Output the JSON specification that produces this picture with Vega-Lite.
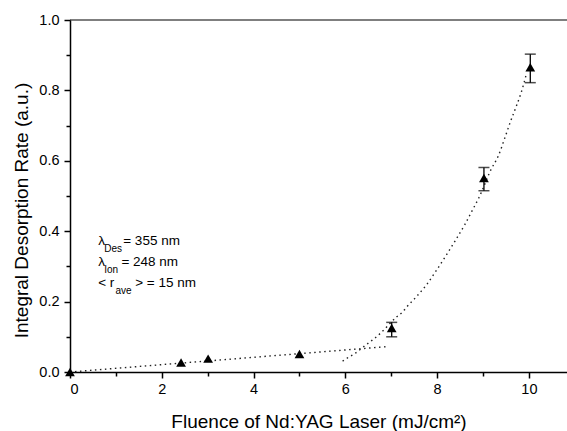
{
  "$schema": "https://vega.github.io/schema/vega-lite/v6.json",
  "width": 497,
  "height": 352,
  "autosize": {"type": "none"},
  "padding": {"left": 70, "top": 20, "right": 0, "bottom": 59},
  "background": "white",
  "config": {
    "view": {"stroke": null},
    "font": "Liberation Sans",
    "axis": {
      "grid": false,
      "domainColor": "black",
      "domainWidth": 1.5,
      "tickColor": "black",
      "tickWidth": 1.5,
      "labelColor": "black",
      "labelFont": "Liberation Sans",
      "labelFontSize": 14.5,
      "titleFont": "Liberation Sans",
      "titleFontSize": 19,
      "titleFontWeight": "normal",
      "titleColor": "black"
    }
  },
  "datasets": {
    "points": [
      {"x": 0, "y": 0},
      {"x": 2.42, "y": 0.027},
      {"x": 3.01, "y": 0.038},
      {"x": 5.0, "y": 0.051},
      {"x": 7.01, "y": 0.125, "lo": 0.1, "hi": 0.141},
      {"x": 9.02, "y": 0.551, "lo": 0.515, "hi": 0.581},
      {"x": 10.03, "y": 0.866, "lo": 0.822, "hi": 0.903}
    ],
    "linfit": [
      {"x": 0, "y": 0},
      {"x": 6.9, "y": 0.072}
    ],
    "expfit": [
      {"x": 5.94, "y": 0.031},
      {"x": 6.07, "y": 0.042},
      {"x": 6.19, "y": 0.051},
      {"x": 6.42, "y": 0.074},
      {"x": 6.54, "y": 0.086},
      {"x": 6.66, "y": 0.098},
      {"x": 6.78, "y": 0.112},
      {"x": 7.12, "y": 0.157},
      {"x": 7.25, "y": 0.171},
      {"x": 7.36, "y": 0.188},
      {"x": 7.57, "y": 0.217},
      {"x": 7.77, "y": 0.248},
      {"x": 7.94, "y": 0.28},
      {"x": 8.18, "y": 0.328},
      {"x": 8.39, "y": 0.372},
      {"x": 8.6, "y": 0.418},
      {"x": 8.79, "y": 0.465},
      {"x": 8.91, "y": 0.495},
      {"x": 9.17, "y": 0.574},
      {"x": 9.34, "y": 0.616},
      {"x": 9.47, "y": 0.663},
      {"x": 9.6, "y": 0.712},
      {"x": 9.74, "y": 0.76},
      {"x": 9.83, "y": 0.793},
      {"x": 9.94, "y": 0.844}
    ],
    "notes": [
      {"x": 0.614, "y": 0.372, "t": "λ", "k": "main"},
      {"x": 0.745, "y": 0.35, "t": "Des", "k": "sub"},
      {"x": 1.16, "y": 0.372, "t": "= 355 nm", "k": "main"},
      {"x": 0.614, "y": 0.3125, "t": "λ", "k": "main"},
      {"x": 0.745, "y": 0.291, "t": "Ion", "k": "sub"},
      {"x": 1.12, "y": 0.3125, "t": "= 248 nm", "k": "main"},
      {"x": 0.614, "y": 0.252, "t": "< r", "k": "main"},
      {"x": 0.99, "y": 0.23, "t": "ave", "k": "sub"},
      {"x": 1.42, "y": 0.252, "t": "> = 15 nm", "k": "main"}
    ]
  },
  "encoding": {
    "x": {
      "field": "x", "type": "quantitative",
      "scale": {"domain": [0, 10.83], "nice": false},
      "axis": {
        "title": "Fluence of Nd:YAG Laser (mJ/cm²)",
        "values": [0, 1, 2, 3, 4, 5, 6, 7, 8, 9, 10],
        "labelExpr": "datum.value % 2 === 0 ? format(datum.value, 'd') : ''",
        "tickSize": {"condition": {"test": "datum.value % 2 === 0", "value": 6}, "value": 4},
        "labelPadding": 4,
        "titlePadding": 17
      }
    },
    "y": {
      "field": "y", "type": "quantitative",
      "scale": {"domain": [0, 1]},
      "axis": {
        "title": "Integral Desorption Rate (a.u.)",
        "values": [0, 0.1, 0.2, 0.3, 0.4, 0.5, 0.6, 0.7, 0.8, 0.9, 1.0],
        "labelExpr": "round(datum.value * 10) % 2 === 0 ? format(datum.value, '.1f') : ''",
        "tickSize": {"condition": {"test": "round(datum.value * 10) % 2 === 0", "value": 6}, "value": 4},
        "labelPadding": 5,
        "titlePadding": 7,
        "titleY": 190
      }
    }
  },
  "layer": [
    {
      "data": {"name": "linfit"},
      "mark": {"type": "line", "color": "#222", "strokeWidth": 1.4, "strokeDash": [1.5, 3.5]}
    },
    {
      "data": {"name": "expfit"},
      "mark": {"type": "line", "color": "#222", "strokeWidth": 1.4, "strokeDash": [1.5, 3.5], "interpolate": "monotone"}
    },
    {
      "data": {"name": "points"},
      "transform": [{"filter": "isValid(datum.lo)"}],
      "mark": {"type": "rule", "color": "black", "strokeWidth": 1.3},
      "encoding": {
        "y": {
          "field": "lo", "type": "quantitative",
          "scale": {"domain": [0, 1]},
          "axis": {
            "title": "Integral Desorption Rate (a.u.)",
            "values": [0, 0.1, 0.2, 0.3, 0.4, 0.5, 0.6, 0.7, 0.8, 0.9, 1.0],
            "labelExpr": "round(datum.value * 10) % 2 === 0 ? format(datum.value, '.1f') : ''",
            "tickSize": {"condition": {"test": "round(datum.value * 10) % 2 === 0", "value": 6}, "value": 4},
            "labelPadding": 5,
            "titlePadding": 7,
            "titleY": 190
          }
        },
        "y2": {"field": "hi"}
      }
    },
    {
      "data": {"name": "points"},
      "transform": [
        {"filter": "isValid(datum.lo)"},
        {"fold": ["lo", "hi"], "as": ["end", "val"]}
      ],
      "mark": {"type": "tick", "orient": "horizontal", "color": "black", "size": 11, "thickness": 1.5},
      "encoding": {
        "y": {
          "field": "val", "type": "quantitative",
          "scale": {"domain": [0, 1]},
          "axis": {
            "title": "Integral Desorption Rate (a.u.)",
            "values": [0, 0.1, 0.2, 0.3, 0.4, 0.5, 0.6, 0.7, 0.8, 0.9, 1.0],
            "labelExpr": "round(datum.value * 10) % 2 === 0 ? format(datum.value, '.1f') : ''",
            "tickSize": {"condition": {"test": "round(datum.value * 10) % 2 === 0", "value": 6}, "value": 4},
            "labelPadding": 5,
            "titlePadding": 7,
            "titleY": 190
          }
        }
      }
    },
    {
      "data": {"name": "points"},
      "mark": {"type": "point", "shape": "triangle-up", "filled": true, "color": "black", "size": 95, "opacity": 1}
    },
    {
      "data": {"name": "notes"},
      "transform": [{"filter": "datum.k === 'main'"}],
      "mark": {"type": "text", "align": "left", "baseline": "middle", "fontSize": 13.5, "color": "black", "font": "Liberation Sans"},
      "encoding": {"text": {"field": "t"}}
    },
    {
      "data": {"name": "notes"},
      "transform": [{"filter": "datum.k === 'sub'"}],
      "mark": {"type": "text", "align": "left", "baseline": "middle", "fontSize": 10, "color": "black", "font": "Liberation Sans"},
      "encoding": {"text": {"field": "t"}}
    },
    {
      "data": {"values": [{"top": 1}]},
      "mark": {"type": "rule", "color": "black", "strokeWidth": 1.2},
      "encoding": {
        "x": null,
        "y": {
          "field": "top", "type": "quantitative",
          "scale": {"domain": [0, 1]},
          "axis": {
            "title": "Integral Desorption Rate (a.u.)",
            "values": [0, 0.1, 0.2, 0.3, 0.4, 0.5, 0.6, 0.7, 0.8, 0.9, 1.0],
            "labelExpr": "round(datum.value * 10) % 2 === 0 ? format(datum.value, '.1f') : ''",
            "tickSize": {"condition": {"test": "round(datum.value * 10) % 2 === 0", "value": 6}, "value": 4},
            "labelPadding": 5,
            "titlePadding": 7,
            "titleY": 190
          }
        }
      }
    }
  ]
}
